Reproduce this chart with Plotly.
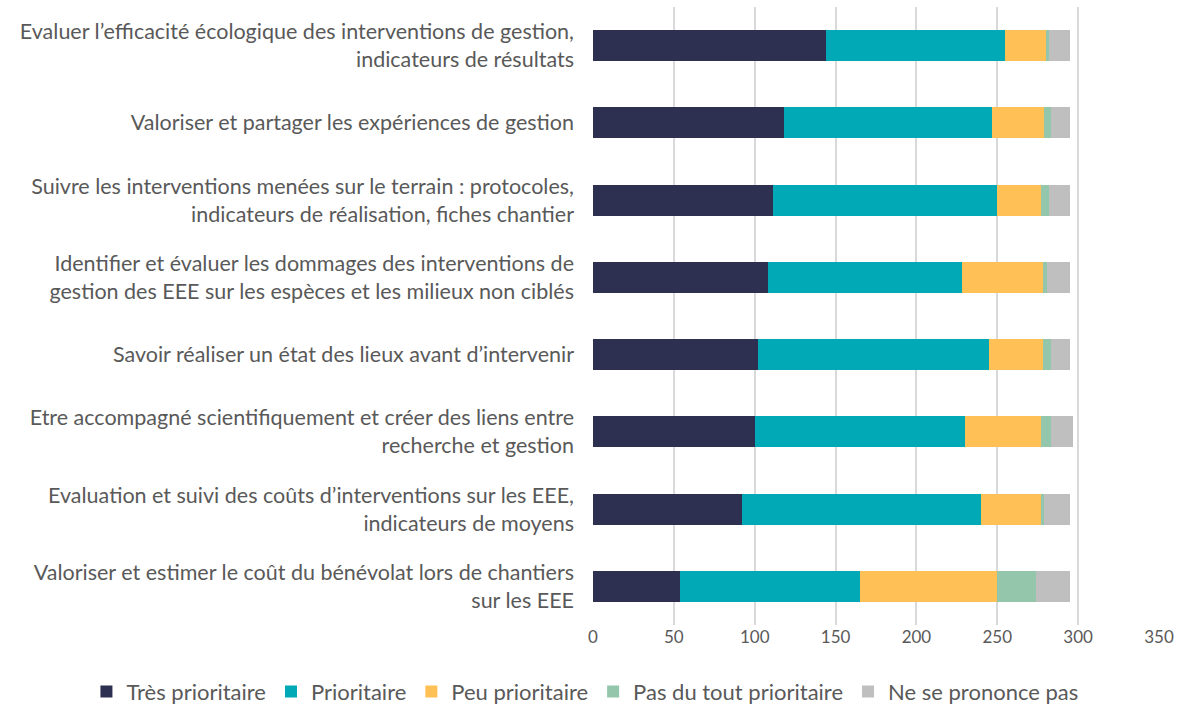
import plotly.graph_objects as go

categories = [
    "Evaluer l’efficacité écologique des interventions de gestion,<br>indicateurs de résultats",
    "Valoriser et partager les expériences de gestion",
    "Suivre les interventions menées sur le terrain : protocoles,<br>indicateurs de réalisation, fiches chantier",
    "Identifier et évaluer les dommages des interventions de<br>gestion des EEE sur les espèces et les milieux non ciblés",
    "Savoir réaliser un état des lieux avant d’intervenir",
    "Etre accompagné scientifiquement et créer des liens entre<br>recherche et gestion",
    "Evaluation et suivi des coûts d’interventions sur les EEE,<br>indicateurs de moyens",
    "Valoriser et estimer le coût du bénévolat lors de chantiers<br>sur les EEE",
]
tres_prioritaire = [144, 118, 111, 108, 102, 100, 92, 54]
prioritaire = [111, 129, 139, 120, 143, 130, 148, 111]
peu_prioritaire = [25, 32, 27, 50, 33, 47, 37, 85]
pas_du_tout = [2, 4, 5, 3, 5, 6, 2, 24]
ne_se_prononce = [13, 12, 13, 14, 12, 14, 16, 21]

series = [
    ("Très prioritaire", tres_prioritaire, "#2E3052"),
    ("Prioritaire", prioritaire, "#00A9B5"),
    ("Peu prioritaire", peu_prioritaire, "#FFC155"),
    ("Pas du tout prioritaire", pas_du_tout, "#93C6AA"),
    ("Ne se prononce pas", ne_se_prononce, "#BFBFBF"),
]

fig = go.Figure()
for name, vals, color in series:
    fig.add_trace(go.Bar(
        y=categories, x=vals, name=name, orientation="h",
        marker=dict(color=color, line=dict(width=0)), width=0.4,
    ))

fig.update_layout(
    barmode="stack",
    width=1184, height=720,
    paper_bgcolor="white", plot_bgcolor="white",
    margin=dict(l=593, r=25, t=7, b=90),
    font=dict(family="Lato, Calibri, sans-serif", color="#595959", size=17),
    xaxis=dict(range=[0, 350], dtick=50, showgrid=True, gridcolor="#D9D9D9", gridwidth=2,
               zeroline=False, showline=False, tickfont=dict(size=17, color="#595959"),
               ticks="", ticklen=0, automargin=False),
    yaxis=dict(autorange="reversed", categoryorder="array", categoryarray=categories,
               showgrid=False, zeroline=False, ticks="", ticklen=0, automargin=False,
               ticklabelstandoff=18,
               tickfont=dict(size=21.5, color="#595959")),
    legend=dict(orientation="h", x=-0.895, y=-0.108,
                xanchor="left", yanchor="middle", font=dict(size=22, color="#595959"),
                traceorder="normal", itemwidth=30),
    bargap=0.6,
)
fig.write_html("out.html", post_script="document.body.style.margin='0px';",
               config={"displayModeBar": False})
